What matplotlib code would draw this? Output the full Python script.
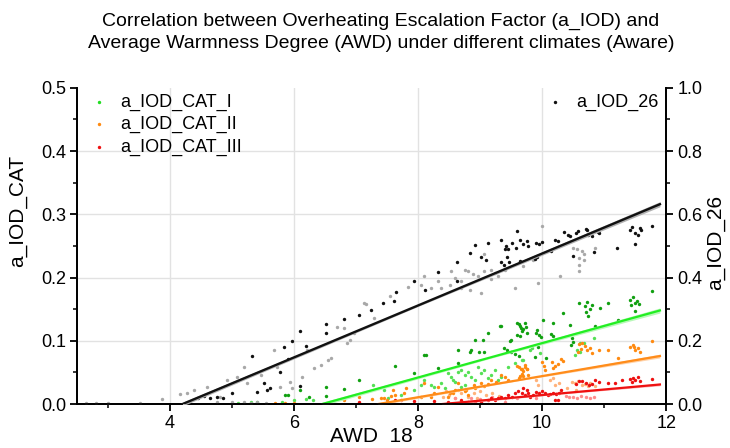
import matplotlib
matplotlib.use("Agg")
import matplotlib.pyplot as plt
import numpy as np
from matplotlib.ticker import MultipleLocator

plt.rcParams['font.family'] = ['Liberation Sans', 'DejaVu Sans']

title = "Correlation between Overheating Escalation Factor (a_IOD) and\nAverage Warmness Degree (AWD) under different climates (Aware)"
x_label = "AWD  18"
y_left_label = "a_IOD_CAT"
y_right_label = "a_IOD_26"
labels_cat = ["a_IOD_CAT_I", "a_IOD_CAT_II", "a_IOD_CAT_III"]
label_26 = "a_IOD_26"
x_ticks = [4, 6, 8, 10, 12]
y_left_ticks = [0.0, 0.1, 0.2, 0.3, 0.4, 0.5]
y_right_ticks = [0.0, 0.2, 0.4, 0.6, 0.8, 1.0]

# ---- a_IOD_26 (right axis), dark and grey points
black_x = [7.64,7.61,7.43,7.24,7.05,6.80,6.51,6.51,6.10,5.97,5.83,6.19,5.91,5.78,5.52,5.57,5.40,5.32,5.00,4.86,4.45,4.55,4.65,4.75,6.10,5.62,
           8.91,9.13,9.34,8.84,9.01,9.09,8.62,8.32,7.93,8.62,8.11,9.34,9.40,9.42,
           9.59,9.45,9.52,9.58,9.64,9.70,9.75,9.78,9.43,9.47,9.39,9.90,9.95,10.0,10.2,10.25,10.36,10.42,10.45,10.55,10.58,10.70,10.72,10.74,10.80,10.9,10.92,10.15,10.5,10.83,11.2,11.5,11.42,11.45,11.5,11.55,11.6,11.58,11.77,9.88,9.91,9.64]
black_y = [0.353,0.325,0.32,0.296,0.283,0.27,0.254,0.226,0.232,0.20,0.181,0.185,0.143,0.10,0.068,0.044,0.039,0.152,0.035,0.019,0.02,0.025,0.018,0.022,0.057,0.05,
           0.503,0.51,0.518,0.479,0.466,0.457,0.45,0.418,0.388,0.388,0.362,0.448,0.49,0.50,
           0.547,0.49,0.51,0.495,0.52,0.505,0.515,0.50,0.465,0.45,0.44,0.51,0.505,0.512,0.52,0.515,0.545,0.535,0.53,0.54,0.548,0.555,0.55,0.535,0.53,0.545,0.54,0.483,0.468,0.48,0.494,0.505,0.55,0.56,0.54,0.535,0.55,0.558,0.563,0.46,0.465,0.452]
grey_x = [10.5,10.56,10.64,10.67,10.59,10.67,10.59,10.59,10.29,9.94,9.56,10.0,9.86,9.70,10.86,
          8.75,8.80,8.89,8.97,9.07,9.18,9.24,9.29,8.53,8.59,8.51,8.70,8.37,8.21,8.05,7.83,8.10,9.02,8.83,9.18,9.40,8.70,8.32,7.16,7.54,9.07,
          7.29,7.13,6.97,6.91,6.86,6.81,6.70,6.59,6.54,6.43,6.32,6.21,6.13,5.94,5.78,5.73,5.67,5.46,5.24,5.19,5.08,4.92,4.81,4.76,4.59,4.38,4.27,4.16,3.87,3.51,3.0,2.8,2.65,5.0,5.2,5.3,5.4,5.55,5.97]
grey_y = [0.494,0.489,0.483,0.473,0.462,0.457,0.441,0.42,0.404,0.383,0.367,0.563,0.457,0.436,0.494,
          0.425,0.42,0.41,0.404,0.42,0.425,0.415,0.404,0.42,0.399,0.378,0.367,0.367,0.367,0.378,0.37,0.404,0.351,0.362,0.394,0.425,0.388,0.388,0.317,0.341,0.473,
          0.272,0.32,0.224,0.203,0.193,0.24,0.245,0.145,0.14,0.124,0.113,0.171,0.087,0.071,0.055,0.118,0.171,0.092,0.066,0.118,0.087,0.076,0.023,0.007,0.055,0.044,0.034,0.032,0.015,0.005,0.002,0.002,0.002,0.006,0.008,0.004,0.006,0.005,0.05]

# ---- CAT I (left axis)
green_dark_x = [11.77,11.42,11.46,11.50,11.44,11.53,11.56,11.5,11.07,10.94,10.69,10.72,10.77,10.70,10.74,10.80,10.59,10.34,10.45,10.48,10.50,10.47,10.18,10.15,10.17,10.02,9.92,9.95,9.98,9.90,9.72,9.74,9.70,9.76,9.94,9.88,10.07,10.86,11.23,9.59,9.62,9.64,9.66,9.68,9.60,9.64,9.50,9.39,9.44,9.50,9.56,9.62,9.48,9.32,9.13,9.04,8.91,8.86,8.83,8.99,9.07,8.64,8.64,8.32,8.10,8.13,7.62,7.94,7.05,6.81,6.51,6.51,6.10,5.86,5.91,6.24,9.34]
green_dark_y = [0.178,0.165,0.170,0.160,0.157,0.163,0.158,0.147,0.16,0.152,0.155,0.162,0.150,0.145,0.140,0.157,0.16,0.144,0.125,0.105,0.098,0.094,0.128,0.111,0.108,0.133,0.117,0.110,0.106,0.113,0.128,0.122,0.118,0.112,0.091,0.075,0.073,0.123,0.133,0.128,0.126,0.124,0.12,0.115,0.110,0.107,0.101,0.089,0.085,0.082,0.079,0.076,0.099,0.123,0.112,0.101,0.101,0.086,0.083,0.083,0.083,0.086,0.065,0.057,0.078,0.078,0.060,0.049,0.038,0.024,0.027,0.013,0.022,0.014,0.014,0.011,0.123]
green_light_x = [10.61,10.67,10.56,10.61,10.53,10.83,9.69,9.80,9.84,9.96,8.48,8.53,8.56,8.59,8.64,8.70,8.75,8.80,8.86,8.91,8.97,9.02,9.07,9.13,9.18,9.24,9.29,9.34,8.05,8.10,8.21,8.26,7.94,8.37,8.43,8.70,8.75,9.45,9.56,9.67,7.72,7.51,7.27,7.45,5.1,5.3,5.4,5.8,6.0,6.2,6.3]
green_light_y = [0.097,0.097,0.086,0.083,0.078,0.104,0.07,0.086,0.088,0.08,0.049,0.043,0.038,0.035,0.051,0.054,0.046,0.051,0.043,0.038,0.059,0.049,0.054,0.041,0.046,0.054,0.038,0.043,0.03,0.038,0.03,0.027,0.022,0.033,0.025,0.027,0.03,0.059,0.065,0.07,0.014,0.009,0.03,0.022,0.002,0.003,0.004,0.003,0.006,0.008,0.007]

# ---- CAT II
orange_dark_x = [11.42,11.46,11.5,11.54,11.58,11.48,11.77,10.59,10.64,10.69,10.63,10.58,10.72,10.78,10.8,10.91,11.07,11.23,10.3,10.33,10.26,10.21,10.16,10.18,10.0,10.03,10.05,9.72,9.75,9.70,9.68,9.78,9.60,9.63,9.66,9.68,9.70,9.65,9.73,9.75,9.62,9.34,9.40,9.45,9.18,9.26,9.02,9.07,9.13,8.9,8.92,8.75,8.78,8.8,8.64,8.59,8.56,8.48,8.51,8.32,8.26,8.21,8.1,8.05,7.8,7.78,7.6,7.62,7.45,7.5,6.8,7.05,7.25,7.4,7.57,5.7,5.85,6.0]
orange_dark_y = [0.09,0.094,0.085,0.088,0.083,0.09,0.1,0.095,0.097,0.092,0.087,0.083,0.085,0.088,0.081,0.085,0.085,0.073,0.072,0.068,0.063,0.06,0.066,0.057,0.067,0.06,0.054,0.059,0.055,0.052,0.056,0.046,0.06,0.058,0.055,0.048,0.045,0.045,0.062,0.056,0.042,0.046,0.043,0.038,0.038,0.035,0.033,0.028,0.031,0.03,0.025,0.02,0.022,0.014,0.033,0.022,0.018,0.011,0.018,0.027,0.018,0.011,0.033,0.012,0.025,0.018,0.022,0.014,0.009,0.006,0.006,0.011,0.008,0.009,0.013,0.002,0.002,0.002]
orange_light_x = [10.48,10.53,10.58,10.64,10.69,10.74,10.77,10.12,10.17,10.2,10.27,9.93,9.9,8.4,8.5,8.6,8.7,8.8,8.9,9.0,9.1,9.2,9.3,8.45,8.65,8.95,10.4,10.55,10.85]
orange_light_y = [0.035,0.033,0.036,0.03,0.032,0.029,0.034,0.038,0.041,0.030,0.033,0.03,0.038,0.012,0.015,0.01,0.018,0.012,0.017,0.02,0.015,0.018,0.013,0.02,0.022,0.01,0.025,0.022,0.028]

# ---- CAT III
red_dark_x = [11.42,11.46,11.5,11.54,11.58,11.45,11.77,11.29,11.18,11.07,10.91,10.86,10.8,10.75,10.7,10.65,10.6,10.55,10.3,10.27,10.22,10.17,10.13,10.1,10.05,10.0,9.95,9.9,9.85,9.56,9.61,9.67,9.72,9.78,9.8,9.51,9.45,9.4,9.34,9.29,9.24,9.18,9.13,9.02,8.91,8.8,8.7,8.48,8.26,7.94,7.72,7.62,9.75,9.7,10.2,10.25,7.05]
red_dark_y = [0.04,0.042,0.038,0.043,0.036,0.035,0.04,0.038,0.033,0.033,0.035,0.038,0.032,0.03,0.034,0.036,0.036,0.032,0.022,0.018,0.016,0.018,0.016,0.014,0.018,0.02,0.017,0.019,0.015,0.017,0.02,0.017,0.014,0.017,0.012,0.012,0.014,0.009,0.012,0.009,0.006,0.009,0.006,0.004,0.004,0.004,0.006,0.004,0.005,0.005,0.007,0.007,0.022,0.025,0.006,0.006,0.003]
red_light_x = [10.43,10.5,10.57,10.63,10.7,10.78,10.83,10.38,9.0,9.2,9.4,8.6,8.85,9.6,9.9]
red_light_y = [0.011,0.012,0.010,0.013,0.011,0.01,0.012,0.013,0.008,0.011,0.004,0.009,0.01,0.009,0.01]

# ---- fitted lines (start/end) and confidence half-widths (start, mid, end)
fit26_x = [4.2, 11.9];  fit26_y = [0.0, 0.632];  fit26_ci = [0.006, 0.003, 0.008]
fitI_x = [6.45, 11.9];  fitI_y = [0.0, 0.148];   fitI_ci = [0.003, 0.0015, 0.004]
fitII_x = [7.35, 11.9]; fitII_y = [0.0, 0.076];  fitII_ci = [0.002, 0.001, 0.003]
fitIII_x = [8.38, 11.9]; fitIII_y = [0.0, 0.031]; fitIII_ci = [0.002, 0.001, 0.002]

fig = plt.figure(figsize=(7.30, 4.48), dpi=100)
ax = fig.add_axes([0.1055, 0.098, 0.807, 0.706])
ax2 = ax.twinx()

ax.set_xlim(2.5, 12)
ax.set_ylim(0, 0.5)
ax2.set_ylim(0, 1.0)

grid_c = '#e2e2e2'
for gx in [4, 6, 8, 10]:
    ax.axvline(gx, color=grid_c, lw=1.0, zorder=0)
for gy in [0.1, 0.2, 0.3, 0.4]:
    ax.axhline(gy, color=grid_c, lw=1.0, zorder=0)

def fit_band(a, xs, ys, ci, color, band_color, lw):
    xx = np.linspace(xs[0], xs[1], 50)
    yy = np.interp(xx, xs, ys)
    hw = np.interp(xx, [xs[0], (xs[0] + xs[1]) / 2, xs[1]], ci)
    a.fill_between(xx, yy - hw, yy + hw, color=band_color, lw=0, zorder=3)
    a.plot(xx, yy, color=color, lw=lw, zorder=4)

ms = 6
ax.scatter(green_light_x, green_light_y, s=ms, color='#55e055', lw=0, zorder=2)
ax.scatter(green_dark_x, green_dark_y, s=ms, color='#11a011', lw=0, zorder=2)
ax.scatter(orange_light_x, orange_light_y, s=ms, color='#ffb27a', lw=0, zorder=2)
ax.scatter(orange_dark_x, orange_dark_y, s=ms, color='#ff8a10', lw=0, zorder=2)
ax.scatter(red_light_x, red_light_y, s=ms, color='#ff8c8c', lw=0, zorder=2)
ax.scatter(red_dark_x, red_dark_y, s=ms, color='#ee1010', lw=0, zorder=2)

fit_band(ax, fitI_x, fitI_y, fitI_ci, '#22ee22', '#b8f8b8', 1.6)
fit_band(ax, fitII_x, fitII_y, fitII_ci, '#ff8c1a', '#ffd2a8', 1.6)
fit_band(ax, fitIII_x, fitIII_y, fitIII_ci, '#ee1111', '#ffb0b0', 1.6)

# legend proxies
h1 = ax.scatter([], [], s=ms, color='#22dd22', lw=0, label=labels_cat[0])
h2 = ax.scatter([], [], s=ms, color='#ff8a10', lw=0, label=labels_cat[1])
h3 = ax.scatter([], [], s=ms, color='#ee1010', lw=0, label=labels_cat[2])
ax.legend(handles=[h1, h2, h3], loc='upper left', frameon=False, fontsize=13,
          handletextpad=0.4, handlelength=1.6, borderaxespad=0.0, labelspacing=0.3,
          bbox_to_anchor=(0.0, 1.005))

ax2.scatter(grey_x, grey_y, s=ms, color='#a8a8a8', lw=0, zorder=2)
ax2.scatter(black_x, black_y, s=ms, color='#111111', lw=0, zorder=2)
fit_band(ax2, fit26_x, fit26_y, fit26_ci, '#111111', '#b0b0b0', 1.7)
h4 = ax2.scatter([], [], s=ms, color='#111111', lw=0, label=label_26)
ax2.legend(handles=[h4], loc='upper right', frameon=False, fontsize=13,
           handletextpad=0.4, handlelength=1.6, borderaxespad=0.0,
           bbox_to_anchor=(1.0, 1.005))

for a in (ax, ax2):
    a.spines['top'].set_visible(False)
    for s in ['left', 'right', 'bottom']:
        a.spines[s].set_linewidth(1.3)
        a.spines[s].set_color('black')

ax.set_xticks(x_ticks)
ax.xaxis.set_minor_locator(MultipleLocator(1))
ax.set_yticks(y_left_ticks)
ax.set_yticklabels([f"{v:.1f}" for v in y_left_ticks])
ax.yaxis.set_minor_locator(MultipleLocator(0.05))
ax2.set_yticks(y_right_ticks)
ax2.set_yticklabels([f"{v:.1f}" for v in y_right_ticks])
ax2.yaxis.set_minor_locator(MultipleLocator(0.1))

for a in (ax, ax2):
    a.tick_params(which='major', direction='out', length=5, width=1.3, labelsize=13, pad=3)
    a.tick_params(which='minor', direction='out', length=3, width=1.1)

ax.set_xlabel(x_label, fontsize=15)
ax.xaxis.set_label_coords(0.5, -0.072)
ax.set_ylabel(y_left_label, fontsize=15)
ax.yaxis.set_label_coords(-0.085, 0.61)
ax2.set_ylabel(y_right_label, fontsize=15, rotation=90)
ax2.yaxis.set_label_coords(1.068, 0.51)

fig.text(0.522, 0.972, title, ha='center', va='top', fontsize=14, linespacing=1.4)

fig.savefig('out.png', dpi=100)
